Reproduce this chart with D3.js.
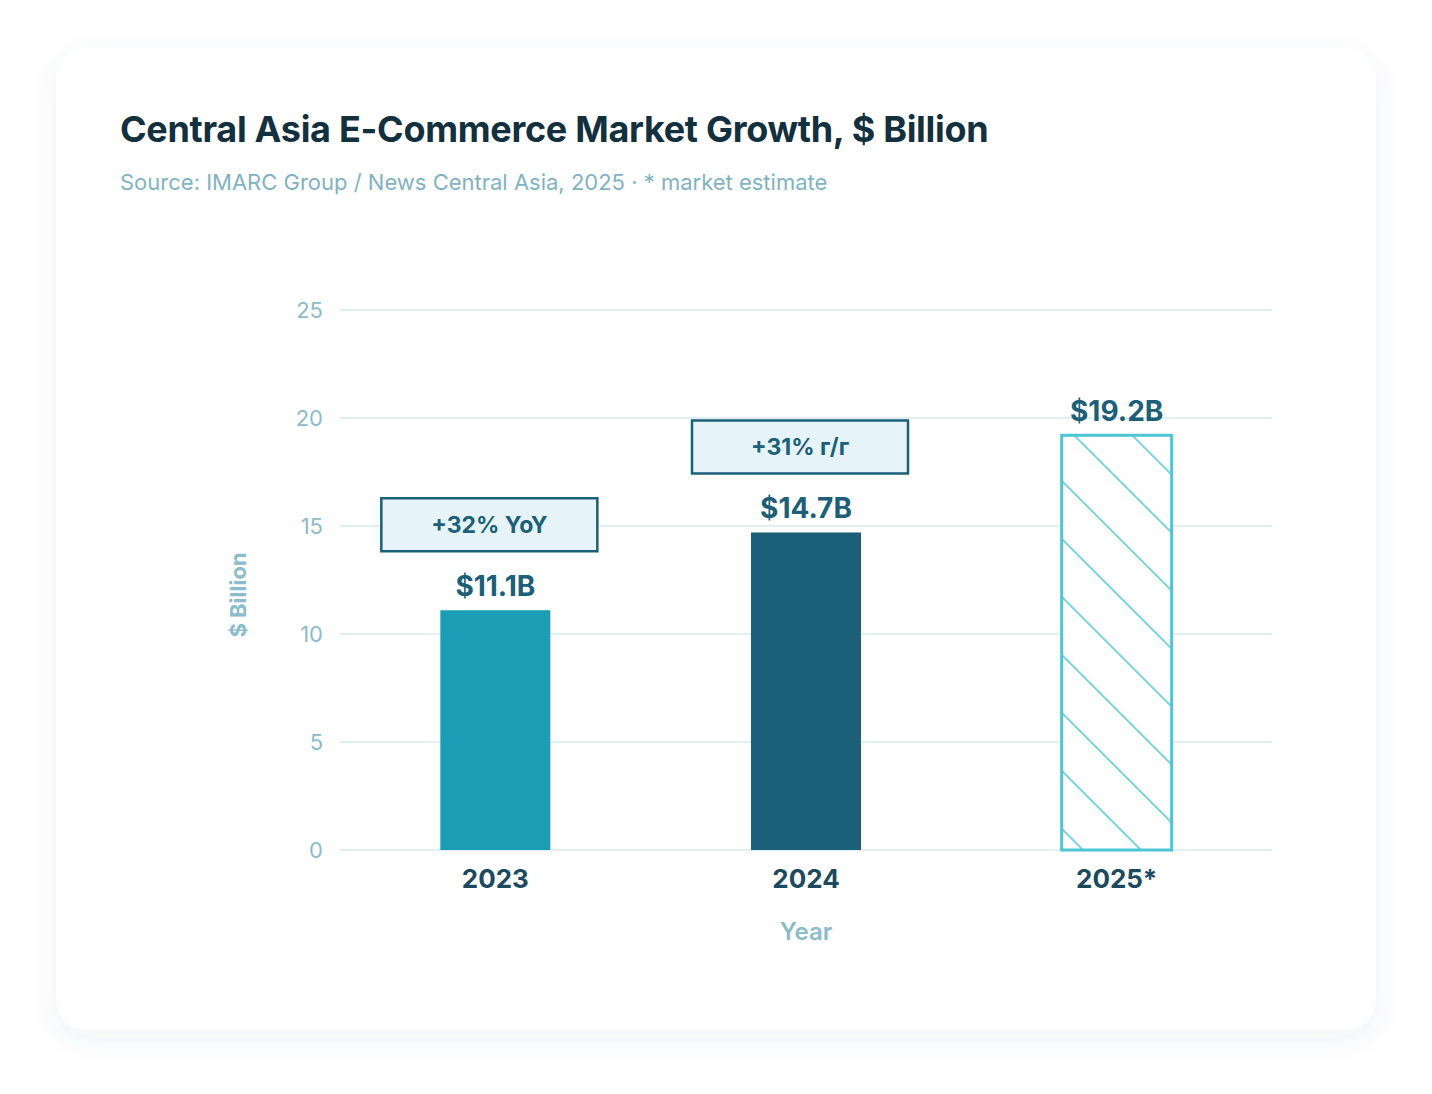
<!DOCTYPE html>
<html><head><meta charset="utf-8">
<script src="https://cdn.jsdelivr.net/npm/d3@7"></script>
<style>body{margin:0;background:#fff;font-family:Inter,"Noto Sans",sans-serif;}</style>
</head><body>
<script>
// data
var years = ["2023", "2024", "2025*"];
var values = [11.1, 14.7, 19.2];
var valueLabels = ["$11.1B", "$14.7B", "$19.2B"];
var growthLabels = ["+32% YoY", "+31% г/г", null];
var yTicks = [0, 5, 10, 15, 20, 25];
var barColors = ["#1a9db5", "#1b5f78", null];

var W = 1432, H = 1094;
var svg = d3.select("body").append("svg").attr("width", W).attr("height", H);
var defs = svg.append("defs");

var f = defs.append("filter").attr("id", "sh").attr("x", "-10%").attr("y", "-10%").attr("width", "120%").attr("height", "125%");
f.append("feDropShadow").attr("dx", 0).attr("dy", 8).attr("stdDeviation", 14).attr("flood-color", "#3a6a80").attr("flood-opacity", 0.08);

var pat = defs.append("pattern").attr("id", "hatch").attr("patternUnits", "userSpaceOnUse")
  .attr("width", 41).attr("height", 41).attr("patternTransform", "rotate(-45)");
pat.append("rect").attr("width", 41).attr("height", 41).attr("fill", "#fff");
pat.append("line").attr("x1", 0).attr("y1", 0).attr("x2", 0).attr("y2", 41)
  .attr("stroke", "#4cc6d4").attr("stroke-width", 3);

svg.append("rect").attr("x", 56).attr("y", 48).attr("width", 1320).attr("height", 982)
  .attr("rx", 32).attr("fill", "#fff").attr("filter", "url(#sh)");

svg.append("text").attr("x", 120).attr("y", 142).text("Central Asia E-Commerce Market Growth, $ Billion")
  .attr("font-size", 36).attr("font-weight", 700).attr("fill", "#12303d").attr("letter-spacing", "-0.3");
svg.append("text").attr("x", 120).attr("y", 190).text("Source: IMARC Group / News Central Asia, 2025 · * market estimate")
  .attr("font-size", 22).attr("fill", "#7fb3c3");

var x = d3.scaleBand().domain(years).range([340, 1272]).paddingInner(0.646).paddingOuter(0.323);
var y = d3.scaleLinear().domain([0, 25]).range([850, 310]);

var g = svg.append("g");
g.selectAll(".grid").data(yTicks).join("line")
  .attr("x1", 340).attr("x2", 1272).attr("y1", d => y(d)).attr("y2", d => y(d))
  .attr("stroke", "#d6eaf0").attr("stroke-width", 1.5);
g.selectAll(".yt").data(yTicks).join("text")
  .attr("x", 323).attr("y", d => y(d) + 8).attr("text-anchor", "end").text(d => d)
  .attr("font-size", 22).attr("fill", "#8bbccb");

svg.append("text").attr("transform", "translate(246,595) rotate(-90)").attr("text-anchor", "middle")
  .text("$ Billion").attr("font-size", 22).attr("font-weight", 700).attr("fill", "#8bbccb");

years.forEach(function (yr, i) {
  var bx = x(yr), bw = x.bandwidth(), top = y(values[i]);
  var r = g.append("rect").attr("x", bx).attr("y", top).attr("width", bw).attr("height", y(0) - top);
  if (barColors[i]) r.attr("fill", barColors[i]);
  else r.attr("fill", "url(#hatch)").attr("stroke", "#4cc6d4").attr("stroke-width", 3);
  g.append("text").attr("x", bx + bw / 2).attr("y", top - 14).attr("text-anchor", "middle")
    .text(valueLabels[i]).attr("font-size", 28).attr("font-weight", 700).attr("fill", "#1b5f78");
  g.append("text").attr("x", bx + bw / 2).attr("y", 888).attr("text-anchor", "middle")
    .text(yr).attr("font-size", 26).attr("font-weight", 700).attr("fill", "#1b4a5e");
  if (growthLabels[i]) {
    var cx = bx + bw / 2 - 6, bb = top - 59;
    g.append("rect").attr("x", cx - 108).attr("y", bb - 53).attr("width", 216).attr("height", 53)
      .attr("fill", "#e6f4f9").attr("stroke", "#1b5f78").attr("stroke-width", 2.5);
    g.append("text").attr("x", cx).attr("y", bb - 18).attr("text-anchor", "middle")
      .text(growthLabels[i]).attr("font-size", 23).attr("font-weight", 700).attr("fill", "#1b5f78");
  }
});

svg.append("text").attr("x", 806).attr("y", 940).attr("text-anchor", "middle").text("Year")
  .attr("font-size", 24).attr("font-weight", 600).attr("fill", "#8bbccb");
</script>
</body></html>
